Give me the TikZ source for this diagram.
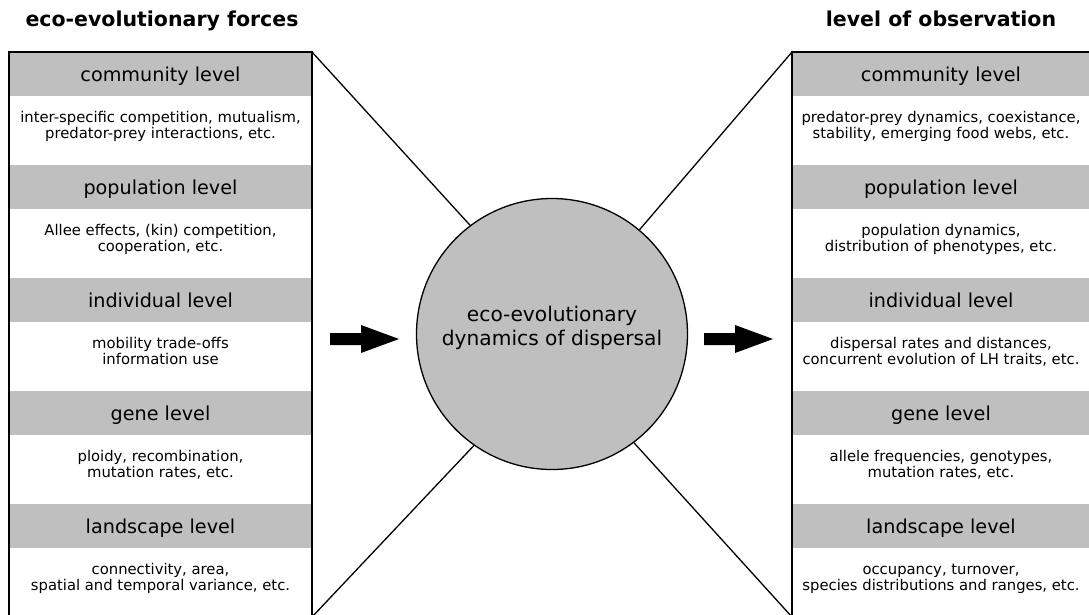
\documentclass[tikz,border=0pt]{standalone}
\usepackage{fontspec}
\setmainfont{DejaVu Sans}
\definecolor{bandgray}{RGB}{191,191,191}
\newcommand\twolines[2]{\strut#1\\\strut#2}
\begin{document}
\begin{tikzpicture}[x=1pt,y=-1pt,
  panel/.style={draw=black,line width=1.6pt},
  band/.style={fill=bandgray},
  heading/.style={font=\fontsize{20.5}{24}\selectfont\bfseries,anchor=base,inner sep=0pt},
  levelname/.style={font=\fontsize{19.2}{23}\selectfont,anchor=base,inner sep=0pt},
  detail/.style={font=\fontsize{14.8}{16.5}\selectfont,align=center,inner sep=0pt},
  hub/.style={circle,draw=black,line width=1.3pt,fill=bandgray,minimum size=271pt,inner sep=0pt},
  hubtext/.style={font=\fontsize{20.2}{24}\selectfont,align=center,inner sep=0pt},
  spoke/.style={draw=black,line width=1.3pt},
  blockarrow/.style={fill=black}]
\useasboundingbox (0,0) rectangle (1089,614);
\clip (0,0) rectangle (1089,614);

% grey title bands of both columns
\foreach \t in {52,165,278,391,504}{
  \fill[band] (9,\t) rectangle (312,\t+43.5);
  \fill[band] (792,\t) rectangle (1090,\t+43.5);
}

% column frames
\draw[panel] (9,52) rectangle (312,617);
\draw[panel] (792,52) rectangle (1090,617);
\coordinate (Ltop) at (312,52);
\coordinate (Lbot) at (312,617);
\coordinate (Rtop) at (792,52);
\coordinate (Rbot) at (792,617);

% headings
\node[heading] (lefttitle) at (162,26) {eco-evolutionary forces};
\node[heading] (righttitle) at (941,26) {level of observation};

% level names
\foreach \i/\t/\name in {1/52/community level,2/165/population level,3/278/individual level,4/391/gene level,5/504/landscape level}{
  \node[levelname] (Lh\i) at (160.5,\t+29.7) {\name};
  \node[levelname] (Rh\i) at (941,\t+29.7) {\name};
}

% left column details
\node[detail] (Lb1) at (160.5,127) {\twolines{inter-specific competition, mutualism,}{predator-prey interactions, etc.}};
\node[detail] (Lb2) at (160.5,240) {\twolines{Allee effects, (kin) competition,}{cooperation, etc.}};
\node[detail] (Lb3) at (160.5,353) {\twolines{mobility trade-offs}{information use}};
\node[detail] (Lb4) at (160.5,466) {\twolines{ploidy, recombination,}{mutation rates, etc.}};
\node[detail] (Lb5) at (160.5,579) {\twolines{connectivity, area,}{spatial and temporal variance, etc.}};

% right column details
\node[detail] (Rb1) at (941,127) {\twolines{predator-prey dynamics, coexistance,}{stability, emerging food webs, etc.}};
\node[detail] (Rb2) at (941,240) {\twolines{population dynamics,}{distribution of phenotypes, etc.}};
\node[detail] (Rb3) at (941,353) {\twolines{dispersal rates and distances,}{concurrent evolution of LH traits, etc.}};
\node[detail] (Rb4) at (941,466) {\twolines{allele frequencies, genotypes,}{mutation rates, etc.}};
\node[detail] (Rb5) at (941,579) {\twolines{occupancy, turnover,}{species distributions and ranges, etc.}};

% central circle
\node[hub] (hub) at (552,334) {};
\node[hubtext] (hubtext) at ([yshift=5.1pt]hub.center) {\strut eco-evolutionary\\\strut dynamics of dispersal};

% funnel lines from the frames to the circle
\draw[spoke] (Ltop) -- (hub.127);
\draw[spoke] (Lbot) -- (hub.235);
\draw[spoke] (Rtop) -- (hub.50);
\draw[spoke] (Rbot) -- (hub.-53);

% block arrows
\fill[blockarrow] (330,333) -- (361,333) -- (361,325) -- (399,339) -- (361,353) -- (361,345) -- (330,345) -- cycle;
\fill[blockarrow] (704,333) -- (735,333) -- (735,325) -- (773,339) -- (735,353) -- (735,345) -- (704,345) -- cycle;
\end{tikzpicture}
\end{document}
